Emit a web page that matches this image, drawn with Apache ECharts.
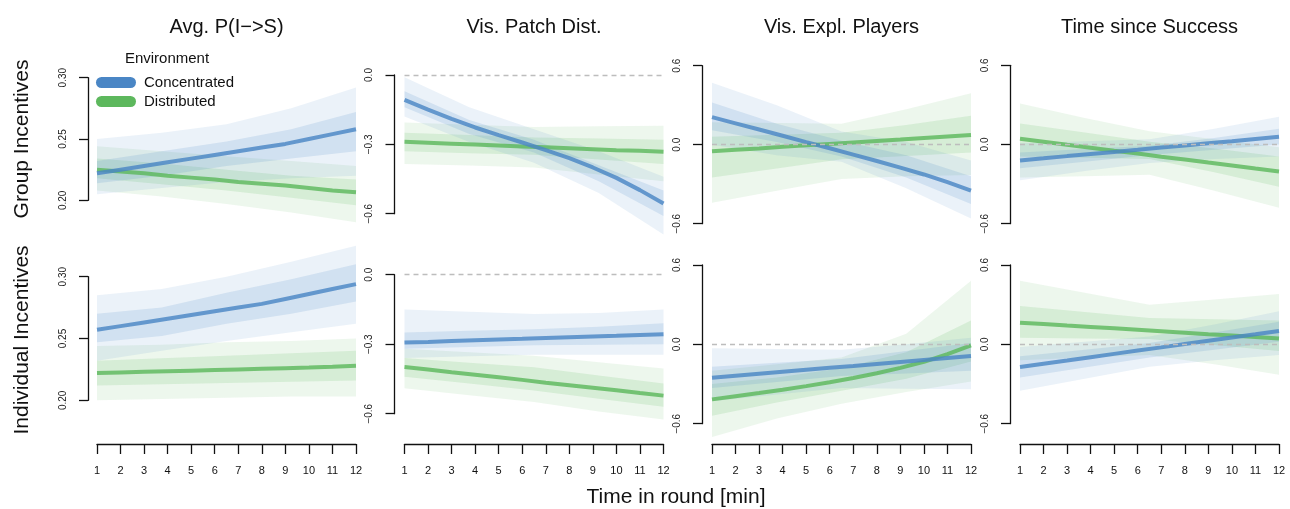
<!DOCTYPE html>
<html><head><meta charset="utf-8">
<script src="https://cdn.jsdelivr.net/npm/echarts@6/dist/echarts.min.js"></script>
<style>html,body{margin:0;padding:0;background:#fff}#c{width:1290px;height:509px}</style>
</head><body><div id="c"></div>
<script>
// ---------- data ----------
const MINUTES = [1,2,3,4,5,6,7,8,9,10,11,12];
const BAND_X = [1, 3.75, 6.5, 9.25, 12];
const COLUMN_TITLES = ['Avg. P(I\u2212>S)', 'Vis. Patch Dist.', 'Vis. Expl. Players', 'Time since Success'];
const ROW_LABELS = ['Group Incentives', 'Individual Incentives'];
const ENVIRONMENTS = ['Concentrated', 'Distributed'];
const X_AXIS_TITLE = 'Time in round [min]';
const LEGEND_TITLE = 'Environment';
const Y_TICKS_COL1 = [0.20, 0.25, 0.30];
const Y_TICKS_COL2 = [-0.6, -0.3, 0.0];
const Y_TICKS_COL3 = [-0.6, 0.0, 0.6];
const Y_TICKS_COL4 = [-0.6, 0.0, 0.6];

// posterior mean lines (G = Group Incentives row, I = Individual Incentives row; C = Concentrated, D = Distributed)
const MEAN_G1_C = [0.222, 0.225, 0.228, 0.231, 0.234, 0.237, 0.240, 0.243, 0.246, 0.250, 0.254, 0.258];
const MEAN_G1_D = [0.225, 0.2235, 0.222, 0.220, 0.2185, 0.217, 0.215, 0.2135, 0.212, 0.210, 0.208, 0.2065];
const MEAN_I1_C = [0.257, 0.260, 0.263, 0.266, 0.269, 0.272, 0.275, 0.278, 0.282, 0.286, 0.290, 0.294];
const MEAN_I1_D = [0.222, 0.2225, 0.223, 0.2235, 0.224, 0.2245, 0.225, 0.2255, 0.226, 0.2265, 0.2272, 0.228];
const MEAN_G2_C = [-0.108, -0.150, -0.190, -0.227, -0.260, -0.292, -0.325, -0.360, -0.400, -0.445, -0.498, -0.556];
const MEAN_G2_D = [-0.289, -0.293, -0.297, -0.301, -0.305, -0.309, -0.313, -0.317, -0.321, -0.325, -0.328, -0.332];
const MEAN_I2_C = [-0.293, -0.290, -0.286, -0.283, -0.280, -0.277, -0.273, -0.270, -0.267, -0.264, -0.260, -0.257];
const MEAN_I2_D = [-0.398, -0.409, -0.421, -0.432, -0.443, -0.454, -0.466, -0.477, -0.488, -0.499, -0.511, -0.522];
const MEAN_G3_C = [0.209, 0.162, 0.115, 0.068, 0.020, -0.027, -0.075, -0.124, -0.174, -0.226, -0.285, -0.348];
const MEAN_G3_D = [-0.050, -0.039, -0.028, -0.016, -0.005, 0.006, 0.017, 0.028, 0.039, 0.051, 0.062, 0.073];
const MEAN_I3_C = [-0.252, -0.237, -0.222, -0.207, -0.192, -0.177, -0.163, -0.148, -0.133, -0.118, -0.103, -0.088];
const MEAN_I3_D = [-0.416, -0.392, -0.368, -0.343, -0.316, -0.287, -0.255, -0.219, -0.178, -0.132, -0.074, -0.008];
const MEAN_G4_C = [-0.121, -0.105, -0.088, -0.072, -0.056, -0.040, -0.023, -0.007, 0.009, 0.025, 0.042, 0.058];
const MEAN_G4_D = [0.043, 0.021, -0.002, -0.024, -0.047, -0.069, -0.092, -0.114, -0.137, -0.159, -0.182, -0.204];
const MEAN_I4_C = [-0.171, -0.146, -0.122, -0.097, -0.072, -0.047, -0.023, 0.002, 0.027, 0.052, 0.076, 0.101];
const MEAN_I4_D = [0.164, 0.153, 0.142, 0.132, 0.121, 0.110, 0.099, 0.088, 0.077, 0.067, 0.056, 0.045];

// spread of posterior draws at BAND_X: [outer low, outer high, inner low, inner high]
const BAND_G1_C = [[0.205,0.210,0.215,0.218,0.220],[0.250,0.255,0.262,0.275,0.292],[0.214,0.220,0.228,0.234,0.240],[0.232,0.240,0.248,0.258,0.272]];
const BAND_G1_D = [[0.208,0.203,0.197,0.190,0.182],[0.244,0.240,0.236,0.232,0.228],[0.218,0.213,0.208,0.202,0.196],[0.234,0.230,0.225,0.220,0.217]];
const BAND_I1_C = [[0.232,0.240,0.248,0.255,0.262],[0.285,0.290,0.300,0.312,0.325],[0.247,0.252,0.262,0.270,0.280],[0.270,0.275,0.287,0.298,0.310]];
const BAND_I1_D = [[0.200,0.201,0.202,0.203,0.203],[0.244,0.245,0.247,0.248,0.250],[0.212,0.213,0.214,0.215,0.216],[0.232,0.234,0.236,0.238,0.240]];
const BAND_G2_C = [[-0.180,-0.290,-0.380,-0.510,-0.690],[-0.010,-0.140,-0.235,-0.330,-0.440],[-0.140,-0.255,-0.335,-0.460,-0.610],[-0.070,-0.195,-0.280,-0.390,-0.500]];
const BAND_G2_D = [[-0.385,-0.392,-0.400,-0.430,-0.460],[-0.205,-0.215,-0.225,-0.222,-0.220],[-0.330,-0.338,-0.345,-0.365,-0.385],[-0.250,-0.260,-0.270,-0.275,-0.280]];
const BAND_I2_C = [[-0.360,-0.352,-0.345,-0.345,-0.345],[-0.150,-0.160,-0.170,-0.165,-0.150],[-0.320,-0.312,-0.305,-0.302,-0.300],[-0.250,-0.242,-0.235,-0.225,-0.210]];
const BAND_I2_D = [[-0.490,-0.520,-0.550,-0.590,-0.625],[-0.320,-0.335,-0.350,-0.378,-0.405],[-0.440,-0.470,-0.500,-0.535,-0.570],[-0.360,-0.380,-0.400,-0.435,-0.470]];
const BAND_G3_C = [[0.000,-0.080,-0.130,-0.330,-0.560],[0.470,0.300,0.100,0.020,-0.120],[0.110,0.020,-0.090,-0.250,-0.450],[0.320,0.160,0.030,-0.080,-0.240]];
const BAND_G3_D = [[-0.440,-0.350,-0.260,-0.240,-0.230],[0.170,0.165,0.160,0.270,0.390],[-0.250,-0.180,-0.110,-0.085,-0.060],[0.060,0.075,0.090,0.150,0.220]];
const BAND_I3_C = [[-0.430,-0.380,-0.330,-0.335,-0.340],[-0.030,-0.035,-0.040,0.000,0.050],[-0.330,-0.285,-0.240,-0.220,-0.200],[-0.170,-0.140,-0.110,-0.050,0.010]];
const BAND_I3_D = [[-0.700,-0.560,-0.450,-0.360,-0.280],[-0.200,-0.150,-0.100,0.080,0.480],[-0.540,-0.440,-0.350,-0.260,-0.130],[-0.300,-0.250,-0.180,-0.060,0.180]];
const BAND_G4_C = [[-0.270,-0.200,-0.140,-0.110,-0.090],[0.010,0.025,0.040,0.120,0.210],[-0.180,-0.130,-0.080,-0.040,0.000],[-0.060,-0.035,-0.010,0.050,0.120]];
const BAND_G4_D = [[-0.250,-0.240,-0.230,-0.350,-0.480],[0.310,0.200,0.100,0.040,-0.020],[-0.090,-0.100,-0.110,-0.210,-0.320],[0.160,0.090,0.020,-0.030,-0.090]];
const BAND_I4_C = [[-0.350,-0.260,-0.170,-0.120,-0.080],[-0.020,0.020,0.060,0.150,0.250],[-0.250,-0.175,-0.100,-0.040,0.020],[-0.090,-0.040,0.010,0.090,0.170]];
const BAND_I4_D = [[-0.120,-0.100,-0.080,-0.150,-0.230],[0.480,0.390,0.300,0.340,0.380],[0.050,0.045,0.040,-0.005,-0.050],[0.290,0.245,0.200,0.190,0.180]];

// ---------- assembly ----------
const MEANS = [
  [[MEAN_G1_C, MEAN_G1_D],[MEAN_G2_C, MEAN_G2_D],[MEAN_G3_C, MEAN_G3_D],[MEAN_G4_C, MEAN_G4_D]],
  [[MEAN_I1_C, MEAN_I1_D],[MEAN_I2_C, MEAN_I2_D],[MEAN_I3_C, MEAN_I3_D],[MEAN_I4_C, MEAN_I4_D]]
];
const BANDS = [
  [[BAND_G1_C, BAND_G1_D],[BAND_G2_C, BAND_G2_D],[BAND_G3_C, BAND_G3_D],[BAND_G4_C, BAND_G4_D]],
  [[BAND_I1_C, BAND_I1_D],[BAND_I2_C, BAND_I2_D],[BAND_I3_C, BAND_I3_D],[BAND_I4_C, BAND_I4_D]]
];
const Y_TICKS = [Y_TICKS_COL1, Y_TICKS_COL2, Y_TICKS_COL3, Y_TICKS_COL4];

const FONT = '"Liberation Sans", Arial, Helvetica, sans-serif';
const ENV_COLOR = ['#4A86C5', '#5DB85D'];
const ENV_RGB = ['74,134,197', '93,184,93'];

const COL_LEFT = [97, 404.5, 712, 1020];
const COL_W = 259;
const PANEL_TOP = [[77.7, 75, 65.7, 65.3], [276.7, 274.7, 265, 265]];
const PANEL_H = [[122.6, 138.7, 158, 158.4], [123.6, 139, 158.7, 158.7]];
const X_AXIS_Y = 444;

const grids = [], xAxes = [], yAxes = [], series = [];

function fmtY(c) {
  return function (v) {
    if (Math.abs(v) < 1e-9) v = 0;
    const s = c === 0 ? v.toFixed(2) : v.toFixed(1);
    return s.replace('-', '\u2212');
  };
}

for (let r = 0; r < 2; r++) {
  for (let c = 0; c < 4; c++) {
    const k = r * 4 + c;
    const top = PANEL_TOP[r][c], h = PANEL_H[r][c];
    const ticks = Y_TICKS[c];
    grids.push({ left: COL_LEFT[c], top: top, width: COL_W, height: h });
    xAxes.push({
      gridIndex: k, type: 'value', min: MINUTES[0], max: MINUTES[MINUTES.length - 1], interval: 1,
      show: r === 1, position: 'bottom', offset: r === 1 ? X_AXIS_Y - (top + h) : 0,
      axisLine: { show: true, onZero: false, lineStyle: { color: '#111', width: 1.3 } },
      axisTick: { show: true, length: 10, inside: false, lineStyle: { color: '#111', width: 1.3 } },
      axisLabel: { fontSize: 11, color: '#111', margin: 21, fontFamily: FONT },
      splitLine: { show: false }
    });
    yAxes.push({
      gridIndex: k, type: 'value', min: ticks[0], max: ticks[ticks.length - 1], interval: ticks[1] - ticks[0],
      position: 'left', offset: c === 0 ? 9 : 10,
      axisLine: { show: true, onZero: false, lineStyle: { color: '#111', width: 1.3 } },
      axisTick: { show: true, length: 9, lineStyle: { color: '#111', width: 1.3 } },
      axisLabel: { rotate: 90, fontSize: 10, color: '#222', margin: 20, fontFamily: FONT, formatter: fmtY(c) },
      splitLine: { show: false }
    });
    // bands: Distributed first, then Concentrated
    [1, 0].forEach(function (e) {
      const band = BANDS[r][c][e];
      [0, 1].forEach(function (level) {
        series.push({
          type: 'custom', name: 'band' + k + e + level, xAxisIndex: k, yAxisIndex: k,
          silent: true, clip: false, z: 1,
          data: [[BAND_X[0], band[level * 2][0]]],
          renderItem: function (params, api) {
            const lo = band[level * 2], hi = band[level * 2 + 1];
            const pts = [];
            for (let j = 0; j < BAND_X.length; j++) pts.push(api.coord([BAND_X[j], hi[j]]));
            for (let j = BAND_X.length - 1; j >= 0; j--) pts.push(api.coord([BAND_X[j], lo[j]]));
            return { type: 'polygon', shape: { points: pts },
              style: { fill: 'rgba(' + ENV_RGB[e] + ',' + (level === 0 ? 0.11 : 0.16) + ')' } };
          }
        });
      });
    });
    [1, 0].forEach(function (e) {
      const s = {
        type: 'line', name: ENVIRONMENTS[e], xAxisIndex: k, yAxisIndex: k,
        data: MINUTES.map(function (m, i) { return [m, MEANS[r][c][e][i]]; }),
        symbol: 'none', showSymbol: false, clip: false, silent: true, z: 3,
        itemStyle: { color: ENV_COLOR[e] },
        lineStyle: { width: 4, color: 'rgba(' + ENV_RGB[e] + ',0.82)' }
      };
      if (c > 0 && e === 1) {
        s.markLine = {
          silent: true, symbol: ['none', 'none'], label: { show: false },
          lineStyle: { color: '#bdbdbd', type: [5, 4], width: 1.3 },
          data: [{ yAxis: 0 }]
        };
      }
      series.push(s);
    });
  }
}

const graphics = [];
COLUMN_TITLES.forEach(function (t, c) {
  graphics.push({ type: 'text', x: COL_LEFT[c] + COL_W / 2, y: 27,
    style: { text: t, fontSize: 20, fontFamily: FONT, fill: '#111', align: 'center', verticalAlign: 'middle' } });
});
const rowCenters = [139, 340];
ROW_LABELS.forEach(function (t, r) {
  graphics.push({ type: 'text', x: 22, y: rowCenters[r], rotation: Math.PI / 2,
    style: { text: t, fontSize: 21, fontFamily: FONT, fill: '#111', align: 'center', verticalAlign: 'middle' } });
});
graphics.push({ type: 'text', x: 676, y: 497,
  style: { text: X_AXIS_TITLE, fontSize: 21, fontFamily: FONT, fill: '#111', align: 'center', verticalAlign: 'middle' } });
graphics.push({ type: 'text', x: 167, y: 59,
  style: { text: LEGEND_TITLE, fontSize: 15, fontFamily: FONT, fill: '#111', align: 'center', verticalAlign: 'middle' } });

const chart = echarts.init(document.getElementById('c'), null, { renderer: 'canvas' });
chart.setOption({
  animation: false,
  backgroundColor: '#ffffff',
  textStyle: { fontFamily: FONT },
  grid: grids, xAxis: xAxes, yAxis: yAxes, series: series,
  legend: {
    data: ENVIRONMENTS, orient: 'vertical', left: 96, top: 75, padding: 0,
    itemWidth: 40, itemHeight: 11, itemGap: 4, selectedMode: false,
    icon: 'path://M5.5,0 L34.5,0 A5.5,5.5 0 0 1 34.5,11 L5.5,11 A5.5,5.5 0 0 1 5.5,0 Z',
    textStyle: { fontSize: 15, color: '#111', fontFamily: FONT, padding: [0, 0, 0, 3] }
  },
  graphic: graphics
});
</script></body></html>
